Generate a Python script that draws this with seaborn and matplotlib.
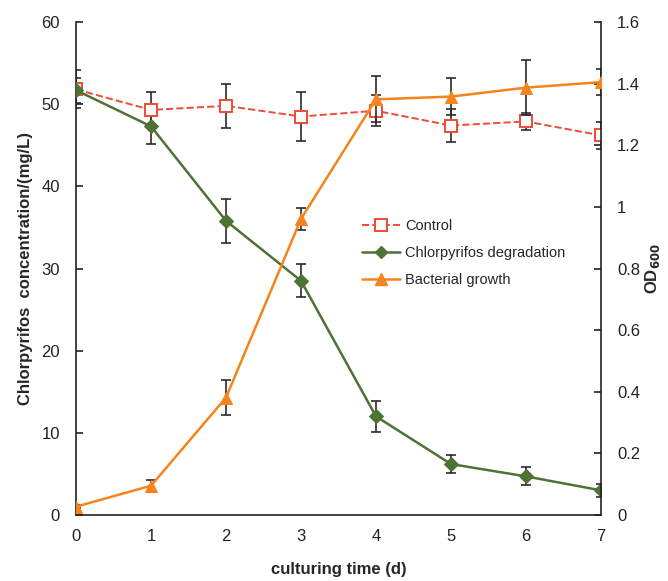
import matplotlib
matplotlib.use("Agg")
import matplotlib.pyplot as plt
import seaborn as sns
import pandas as pd
import numpy as np
from matplotlib.ticker import FuncFormatter
from matplotlib.lines import Line2D

days = [0, 1, 2, 3, 4, 5, 6, 7]
control = [51.8, 49.3, 49.8, 48.5, 49.2, 47.4, 47.9, 46.2]
control_err = [2.3, 2.2, 2.7, 3.0, 1.9, 2.0, 1.0, 1.6]
degradation = [51.7, 47.3, 35.8, 28.5, 12.0, 6.2, 4.7, 3.0]
degradation_err = [1.5, 2.2, 2.7, 2.0, 1.85, 1.05, 1.1, 0.75]
growth = [0.027, 0.095, 0.381, 0.961, 1.349, 1.358, 1.387, 1.405]
growth_err = [0.005, 0.019, 0.058, 0.037, 0.075, 0.06, 0.09, 0.043]

labels = ["Control", "Chlorpyrifos degradation", "Bacterial growth"]
colors = ["#f04a38", "#4d7335", "#f5841f"]

sns.set_theme(style="white")
plt.rcParams["font.family"] = ["Liberation Sans", "DejaVu Sans"]
plt.rcParams["xtick.direction"] = "in"
plt.rcParams["ytick.direction"] = "in"

fig = plt.figure(figsize=(6.68, 5.81), dpi=100)
ax = fig.add_axes([0.1138, 0.1136, 0.7859, 0.8485])
ax2 = ax.twinx()

df_c = pd.DataFrame({"day": days, "val": control})
df_d = pd.DataFrame({"day": days, "val": degradation})
df_g = pd.DataFrame({"day": days, "val": growth})

ecol = "#2b2b2b"
ax.errorbar(days, control, yerr=control_err, fmt="none", ecolor=ecol, elinewidth=1.2, capsize=3.5, capthick=1.2, zorder=1)
ax.errorbar(days, degradation, yerr=degradation_err, fmt="none", ecolor=ecol, elinewidth=1.2, capsize=3.5, capthick=1.2, zorder=1)
ax2.errorbar(days, growth, yerr=growth_err, fmt="none", ecolor=ecol, elinewidth=1.2, capsize=3.5, capthick=1.2, zorder=1)

sns.lineplot(data=df_c, x="day", y="val", ax=ax, color=colors[0], linestyle="--", linewidth=1.4,
             marker="s", markersize=9, markerfacecolor="white", markeredgecolor=colors[0], markeredgewidth=1.4, zorder=3)
sns.lineplot(data=df_d, x="day", y="val", ax=ax, color=colors[1], linewidth=1.8,
             marker="D", markersize=7, markeredgecolor=colors[1], zorder=3)
sns.lineplot(data=df_g, x="day", y="val", ax=ax2, color=colors[2], linewidth=1.8,
             marker="^", markersize=9, markeredgecolor=colors[2], zorder=3)

ax.set_xlim(0, 7)
ax.set_ylim(0, 60)
ax2.set_ylim(0, 1.6)
ax.set_xticks(days)
ax.set_yticks(range(0, 61, 10))
ax2.set_yticks(np.arange(0, 1.61, 0.2))
ax2.yaxis.set_major_formatter(FuncFormatter(lambda v, p: f"{v:g}"))

for a in (ax, ax2):
    a.spines["top"].set_visible(False)
    for s in ("left", "right", "bottom"):
        a.spines[s].set_color("#222222")
        a.spines[s].set_linewidth(1.2)
    a.tick_params(axis="both", labelsize=12, colors="#222222", length=5, width=1.2, pad=11.5)
    a.grid(False)
ax.spines["right"].set_visible(False)
ax2.spines["left"].set_visible(False)
ax2.spines["bottom"].set_visible(False)
ax.tick_params(axis="x", pad=10)

ax.set_xlabel("culturing time (d)", fontsize=12, fontweight="bold", labelpad=13)
ax.set_ylabel("Chlorpyrifos  concentration/(mg/L)", fontsize=12, fontweight="bold", labelpad=6)
ax2.set_ylabel("OD$_{\\mathbf{600}}$", fontsize=12, fontweight="bold", rotation=90, labelpad=2)

handles = [
    Line2D([], [], color=colors[0], linestyle="--", linewidth=1.4, marker="s", markersize=8,
           markerfacecolor="white", markeredgecolor=colors[0], markeredgewidth=1.4),
    Line2D([], [], color=colors[1], linewidth=1.8, marker="D", markersize=6),
    Line2D([], [], color=colors[2], linewidth=1.8, marker="^", markersize=8),
]
ax2.legend(handles, labels, loc="center left", bbox_to_anchor=(0.545, 0.531), frameon=False,
           fontsize=10.5, handlelength=2.6, labelspacing=0.9, handletextpad=0.35,
           borderpad=0, borderaxespad=0)

fig.savefig("out.png", dpi=100)
